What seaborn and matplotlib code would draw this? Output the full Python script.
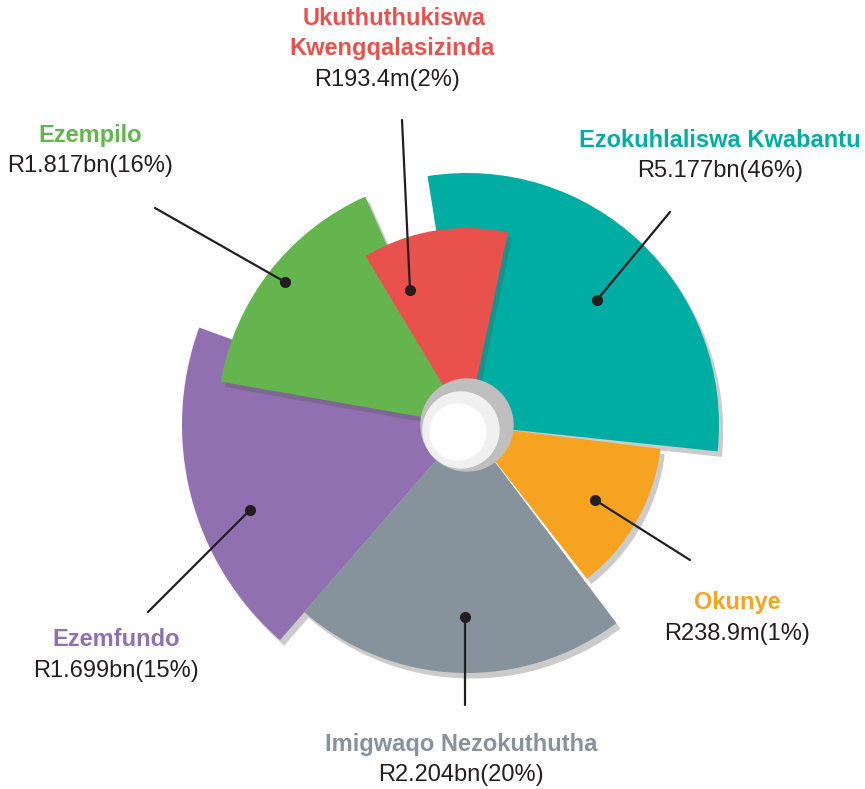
import numpy as np
import seaborn as sns
import matplotlib.pyplot as plt
import matplotlib.patheffects as pe
from matplotlib.patches import Circle

# sectors in drawing order (back to front)
sectors = ['Ezokuhlaliswa Kwabantu', 'Ezemfundo', 'Imigwaqo Nezokuthutha',
           'Okunye', 'Ezempilo', 'Ukuthuthukiswa\nKwengqalasizinda']
amounts = ['R5.177bn', 'R1.699bn', 'R2.204bn', 'R238.9m', 'R1.817bn', 'R193.4m']
shares = [46, 15, 20, 1, 16, 2]
colors = ['#00ADA3', '#9170B2', '#86939C', '#F7A322', '#65B54F', '#E8514C']

# wedge geometry (degrees, pixels)
start_deg = [-6, 160, 229, 308, 114, 78]
end_deg = [99, 229, 307, 353, 170, 121]
radius = [252, 285, 248, 195, 250, 197]

# label / leader placement (pixels)
label_xy = [(720, 140), (116, 640), (461, 744), (737, 603), (90, 135), (394, 18)]
value_x = [720, 116, 461, 737, 90, 387]
line_from = [(670, 212), (148, 612), (465, 705), (690, 560), (155, 208), (402, 120)]
dot_xy = [(597, 300), (250, 510), (465, 617), (595, 500), (285, 282), (410, 290)]

W, H = 865, 789
cx, cy = 467, 425
R = 300

sns.set_theme(style="white")
plt.rcParams['font.family'] = ['Liberation Sans', 'DejaVu Sans']

fig = plt.figure(figsize=(W / 100, H / 100), dpi=100)
ax = fig.add_axes([(cx - R) / W, (H - cy - R) / H, 2 * R / W, 2 * R / H], projection='polar')
ax.set_ylim(0, R)
ax.set_axis_off()

shadow = [pe.SimplePatchShadow(offset=(3, -4), shadow_rgbFace='#555555', alpha=0.3), pe.Normal()]
for s, e, r, c in zip(start_deg, end_deg, radius, colors):
    t0, t1 = np.deg2rad(s), np.deg2rad(e)
    bars = ax.bar((t0 + t1) / 2, r, width=t1 - t0, bottom=0, color=c,
                  edgecolor='none', align='center')
    for b in bars:
        b.set_path_effects(shadow)

ov = fig.add_axes([0, 0, 1, 1], facecolor='none')
ov.set_xlim(0, W)
ov.set_ylim(H, 0)
ov.set_axis_off()

# centre hole
ov.add_patch(Circle((cx, cy), 46, color='#bfbfbf', zorder=3))
ov.add_patch(Circle((cx - 6, cy + 5), 38, color='#f0f0f0', zorder=3))
ov.add_patch(Circle((cx - 9, cy + 7), 28, color='white', zorder=3))

for i, name in enumerate(sectors):
    x, y = label_xy[i]
    parts = name.split('\n')
    for k, part in enumerate(parts):
        ov.text(x - 2 * k, y + 30 * k, part, color=colors[i], fontsize=17,
                fontweight='bold', ha='center', va='center', zorder=5)
    ov.text(value_x[i], y + 31 * len(parts), f'{amounts[i]}({shares[i]}%)',
            color='#231F20', fontsize=17, ha='center', va='center', zorder=5)
    (x0, y0), (x1, y1) = line_from[i], dot_xy[i]
    ov.plot([x0, x1], [y0, y1], color='#231F20', lw=1.6, zorder=4)
    ov.plot(x1, y1, 'o', color='#231F20', ms=7, zorder=4)

fig.savefig('out.png', dpi=100)
